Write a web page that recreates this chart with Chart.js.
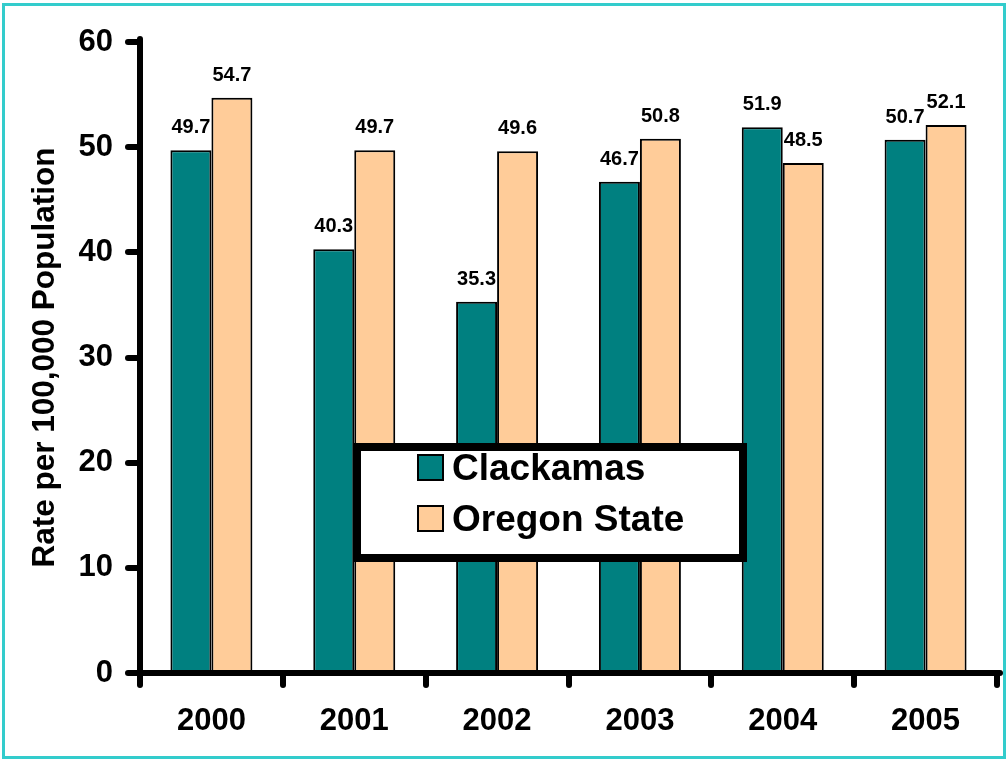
<!DOCTYPE html>
<html>
<head>
<meta charset="utf-8">
<script src="https://cdn.jsdelivr.net/npm/chart.js@4"></script>
<style>
  html, body { margin: 0; padding: 0; background: #fff; }
  #wrap { position: relative; width: 1008px; height: 760px; }
</style>
</head>
<body>
<div id="wrap"><canvas id="c" width="1008" height="760"></canvas></div>
<script>
const categories = ['2000', '2001', '2002', '2003', '2004', '2005'];
const seriesNames = ['Clackamas', 'Oregon State'];
const clackamas = [49.7, 40.3, 35.3, 46.7, 51.9, 50.7];
const oregonState = [54.7, 49.7, 49.6, 50.8, 48.5, 52.1];
const yTicks = [0, 10, 20, 30, 40, 50, 60];
const yTitle = 'Rate per 100,000 Population';

const FONT = '"Liberation Sans", Arial, sans-serif';
const TEAL = '#008080';
const PEACH = '#FFCC99';

const framePlugin = {
  id: 'frame',
  beforeDraw(chart) {
    const ctx = chart.ctx;
    ctx.save();
    ctx.fillStyle = '#fff';
    ctx.fillRect(0, 0, chart.width, chart.height);
    ctx.strokeStyle = '#33CCCC';
    ctx.lineWidth = 3;
    ctx.strokeRect(3.5, 4.5, 1001, 753);
    ctx.restore();
    ctx.lineCap = 'round';
  }
};

const valueLabels = {
  id: 'valueLabels',
  afterDatasetsDraw(chart) {
    const ctx = chart.ctx;
    ctx.save();
    ctx.font = 'bold 20px ' + FONT;
    ctx.fillStyle = '#000';
    ctx.textAlign = 'center';
    ctx.textBaseline = 'alphabetic';
    chart.data.datasets.forEach((ds, di) => {
      const meta = chart.getDatasetMeta(di);
      meta.data.forEach((bar, i) => {
        ctx.fillText(ds.data[i].toFixed(1), bar.x, bar.y - 17);
      });
    });
    ctx.restore();
  }
};

const boxLegend = {
  id: 'boxLegend',
  afterDraw(chart) {
    const ctx = chart.ctx;
    ctx.save();
    ctx.lineCap = 'butt';
    ctx.fillStyle = '#fff';
    ctx.fillRect(357, 447, 386, 111);
    ctx.strokeStyle = '#000';
    ctx.lineWidth = 8;
    ctx.strokeRect(357, 447, 386, 111);
    ctx.font = 'bold 37px ' + FONT;
    ctx.textAlign = 'left';
    ctx.textBaseline = 'alphabetic';
    const rows = [455, 506];
    chart.data.datasets.forEach((ds, i) => {
      const y = rows[i];
      ctx.fillStyle = ds.backgroundColor;
      ctx.fillRect(418, y, 25, 25);
      ctx.lineWidth = 2;
      ctx.strokeStyle = '#000';
      ctx.strokeRect(418, y, 25, 25);
      ctx.fillStyle = '#000';
      ctx.fillText(ds.label, 452, y + 25);
    });
    ctx.restore();
  }
};

new Chart(document.getElementById('c'), {
  type: 'bar',
  data: {
    labels: categories,
    datasets: [
      { label: seriesNames[0], data: clackamas, backgroundColor: TEAL, borderColor: '#000', borderWidth: 2 },
      { label: seriesNames[1], data: oregonState, backgroundColor: PEACH, borderColor: '#000', borderWidth: 2 }
    ]
  },
  options: {
    responsive: false,
    animation: false,
    devicePixelRatio: 1,
    layout: { padding: { left: 10, right: 11, top: 42, bottom: 0 } },
    datasets: { bar: { categoryPercentage: 0.574, barPercentage: 1.0 } },
    plugins: {
      legend: { display: false },
      tooltip: { enabled: false }
    },
    scales: {
      x: {
        afterFit(scale) { scale.height = 87; },
        grid: { display: true, drawOnChartArea: false, drawTicks: true, tickLength: 12, lineWidth: 6, color: '#000', offset: true },
        border: { display: true, color: '#000', width: 6 },
        ticks: { color: '#000', padding: 18, font: { family: FONT, size: 31, weight: 'bold' }, maxRotation: 0 }
      },
      y: {
        min: 0, max: 60,
        afterFit(scale) { scale.width = 130; },
        afterBuildTicks(scale) { scale.ticks = yTicks.map(v => ({ value: v })); },
        grid: { display: true, drawOnChartArea: false, drawTicks: true, tickLength: 12, lineWidth: 6, color: '#000' },
        border: { display: true, color: '#000', width: 6 },
        ticks: { color: '#000', padding: 15, font: { family: FONT, size: 31, weight: 'bold' } },
        title: { display: true, text: yTitle, color: '#000', padding: { top: 16, bottom: 0 }, font: { family: FONT, size: 31.5, weight: 'bold' } }
      }
    }
  },
  plugins: [framePlugin, valueLabels, boxLegend]
});
</script>
</body>
</html>
